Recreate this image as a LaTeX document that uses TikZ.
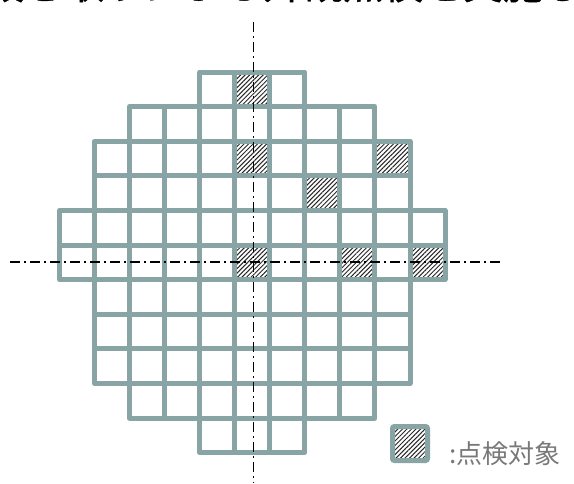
\documentclass[tikz,border=0pt]{standalone}
\usepackage{fontspec}
\newfontfamily\jp{Noto Sans CJK JP}
\newfontfamily\jpt[FakeBold=1]{Noto Sans CJK JP}
\usetikzlibrary{patterns.meta}
\definecolor{gridc}{RGB}{136,164,165}
\definecolor{legtext}{RGB}{120,120,120}
\begin{document}
\begin{tikzpicture}[x=1pt,y=1pt,
  cellline/.style={draw=gridc, line width=5pt, line join=round},
  hatchfill/.style={pattern={Lines[angle=45,distance=3.2pt,line width=1pt]}, pattern color=black!85},
  axisline/.style={black, line width=1.3pt, dash pattern=on 10pt off 4pt on 2pt off 4pt}]
\useasboundingbox (0,0) rectangle (574,-483);
% hatched cells
\foreach \r/\c in {0/5,2/5,2/9,3/7,5/5,5/8,5/10}{
  \fill[hatchfill] ({59.5+35.05*\c},{-72-34.6*\r}) rectangle ++(35.05,-34.6);
}
% grid
\foreach \r/\a/\b in {0/4/6,1/2/8,2/1/9,3/1/9,4/0/10,5/0/10,6/1/9,7/1/9,8/1/9,9/2/8,10/4/6}{
  \foreach \c in {\a,...,\b}{
    \draw[cellline] ({59.5+35.05*\c},{-72-34.6*\r}) rectangle ++(35.05,-34.6);
  }
}
% axes
\coordinate (vtop) at (253.5,-22);
\coordinate (vbot) at (253.5,-483);
\coordinate (hleft) at (10,-262);
\coordinate (hright) at (502,-262);
\draw[axisline] (vtop) -- (vbot);
\draw[axisline] (hleft) -- (hright);
% title (cut off by the top edge, as in the reference)
\node[anchor=base west, inner sep=0, font=\jpt\fontsize{40}{48}\selectfont] (title) at (-16,1) {抜き取りによる外観点検を実施し};
% legend
\node[draw=gridc, line width=5pt, rounded corners=2pt, minimum width=35pt, minimum height=34pt, inner sep=0, hatchfill] (legbox) at (410,-443.5) {};
\node[anchor=base west, inner sep=0, text=legtext, font=\jp\fontsize{26}{30}\selectfont] (legtxt) at (449,-463) {:点検対象};
\end{tikzpicture}
\end{document}
